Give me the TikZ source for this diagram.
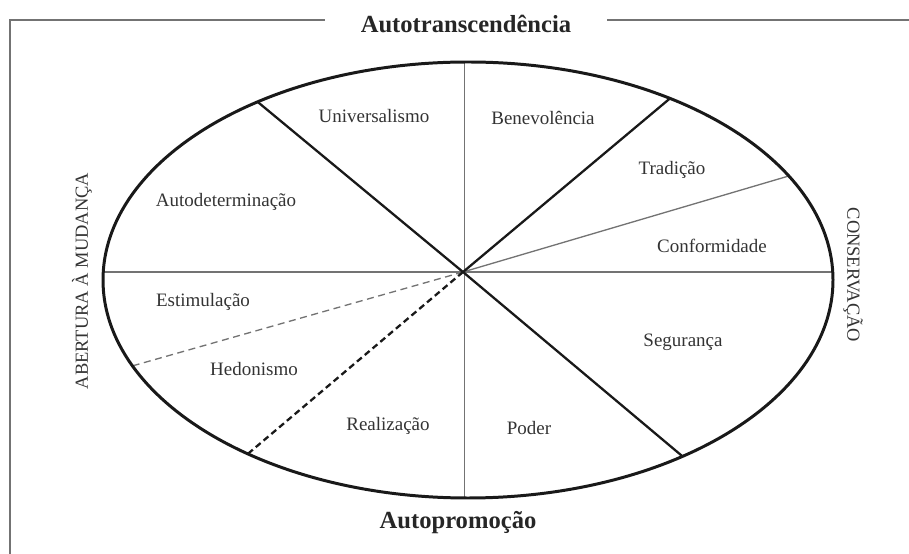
\documentclass[tikz,border=0pt]{standalone}
\usepackage{fontspec}
\setmainfont{Liberation Serif}
\usetikzlibrary{calc}

\begin{document}
\begin{tikzpicture}[x=0.2mm,y=-0.2mm,
  rim/.style={line width=1.7pt,black!90},
  boldspoke/.style={line width=1.3pt,black!90},
  thinspoke/.style={line width=0.75pt,black!55},
  frame/.style={line width=0.8pt,black!55},
  value/.style={text=black!80,font=\fontsize{10.8}{13}\selectfont},
  pole/.style={text=black!85,font=\bfseries\fontsize{14}{16}\selectfont},
  side/.style={text=black!80,font=\fontsize{10.5}{12}\selectfont}]
\useasboundingbox (0,0) rectangle (909,554);

% moldura
\draw[frame] (10,554) -- (10,20) -- (325,20);
\draw[frame] (607,20) -- (909,20);

\coordinate (ctr) at (468,280);
\coordinate (hub) at (463,272);
\foreach \name/\ang in {top/269.4, bot/90.6, west/182.1, east/357.9,
    univ/234.8, bene/303.6, trad/331.5, esti/156.8, hedo/127.1, pode/54}
  \coordinate (\name) at ($(ctr)+(\ang:365 and 218)$);

% linhas finas
\draw[thinspoke] (top) -- (bot);
\draw[thinspoke] (west) -- (east);
\draw[thinspoke] (hub) -- (trad);
\draw[thinspoke,dash pattern=on 4pt off 2.6pt] (hub) -- (esti);

% linhas grossas
\draw[boldspoke] (hub) -- (univ);
\draw[boldspoke] (hub) -- (bene);
\draw[boldspoke] (hub) -- (pode);
\draw[boldspoke,dash pattern=on 3.6pt off 2.2pt] (hub) -- (hedo);

\draw[rim] (ctr) ellipse [x radius=365, y radius=218];

% valores
\node[value] (universalismo) at (374,116) {Universalismo};
\node[value] (benevolencia) at (543,118) {Benevolência};
\node[value] (tradicao) at (672,170) {Tradição};
\node[value] (autodeterminacao) at (226,202) {Autodeterminação};
\node[value] (conformidade) at (712,246) {Conformidade};
\node[value] (estimulacao) at (203,302) {Estimulação};
\node[value] (seguranca) at (683,342) {Segurança};
\node[value] (hedonismo) at (254,369) {Hedonismo};
\node[value] (realizacao) at (388,426) {Realização};
\node[value] (poder) at (529,428) {Poder};

% dimensoes
\node[pole] (transc) at (466,24) {Autotranscendência};
\node[pole] (promo) at (458,523) {Autopromoção};
\node[side,rotate=90] (abertura) at (82,281) {ABERTURA À MUDANÇA};
\node[side,rotate=-90] (conserv) at (853,275) {CONSERVAÇÃO};
\end{tikzpicture}
\end{document}
